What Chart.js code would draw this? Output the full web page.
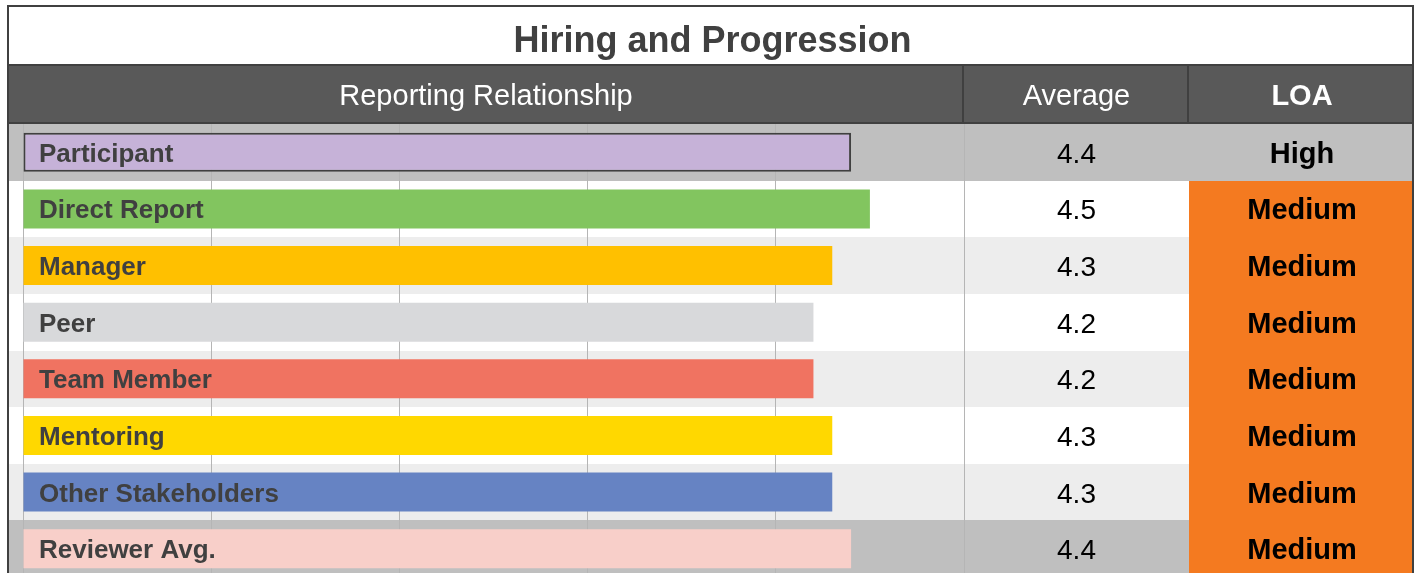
<!DOCTYPE html>
<html>
<head>
<meta charset="utf-8">
<script src="https://cdn.jsdelivr.net/npm/chart.js@4/dist/chart.umd.min.js"></script>
<style>
  html, body { margin: 0; padding: 0; background: #ffffff; overflow: hidden; }
  #wrap { position: relative; width: 1418px; height: 577px; }
</style>
</head>
<body>
<div id="wrap"><canvas id="c" width="1418" height="577"></canvas></div>
<script>
// ---- data ----
const chartTitle = 'Hiring and Progression';
const headerLabels = ['Reporting Relationship', 'Average', 'LOA'];
const categories = ['Participant', 'Direct Report', 'Manager', 'Peer', 'Team Member', 'Mentoring', 'Other Stakeholders', 'Reviewer Avg.'];
const scores = [4.4, 4.5, 4.3, 4.2, 4.2, 4.3, 4.3, 4.4];
const averageLabels = ['4.4', '4.5', '4.3', '4.2', '4.2', '4.3', '4.3', '4.4'];
const loaLabels = ['High', 'Medium', 'Medium', 'Medium', 'Medium', 'Medium', 'Medium', 'Medium'];
const xTicks = [0, 1, 2, 3, 4, 5];

// ---- styles ----
const barColors = ['#c6b2d8', '#82c55f', '#ffc000', '#d8d9db', '#f07361', '#ffd800', '#6683c3', '#f8cfc9'];
const barBorderWidths = [2, 0, 0, 0, 0, 0, 0, 0];
const rowShades = ['#bfbfbf', '#ffffff', '#ededed', '#ffffff', '#ededed', '#ffffff', '#ededed', '#bfbfbf'];
const loaColors = { High: null, Medium: '#f47a20' };
const DARK = '#404040';
const FONT = '"Liberation Sans", Arial, Helvetica, sans-serif';

const FRAME_L = 7, FRAME_R = 1414, FRAME_T = 5;
const TITLE_BOTTOM = 65, HEADER_BOTTOM = 123;
const COL_AVG_L = 963, COL_LOA_L = 1188;

function rowGeom(chart, i) {
  const ys = chart.scales.y;
  const n = categories.length;
  const h = (chart.chartArea.bottom - chart.chartArea.top) / n;
  const c = ys.getPixelForValue(i);
  const top = Math.round(c - h / 2), bottom = Math.round(c + h / 2);
  return { top: top, bottom: bottom, center: c, h: bottom - top };
}

const tablePlugin = {
  id: 'tablePlugin',
  beforeDraw(chart) {
    const ctx = chart.ctx;
    ctx.save();
    ctx.fillStyle = '#ffffff';
    ctx.fillRect(0, 0, chart.width, chart.height);
    // row shading
    categories.forEach((_, i) => {
      const g = rowGeom(chart, i);
      ctx.fillStyle = rowShades[i];
      ctx.fillRect(FRAME_L + 2, g.top, FRAME_R - FRAME_L - 3, g.h);
      const lc = loaColors[loaLabels[i]];
      if (lc) {
        ctx.fillStyle = lc;
        ctx.fillRect(COL_LOA_L + 1, g.top, FRAME_R - 2 - COL_LOA_L, g.h);
      }
    });
    ctx.restore();
  },
  afterDatasetsDraw(chart) {
    const ctx = chart.ctx;
    ctx.save();
    // labels inside bars
    ctx.fillStyle = DARK;
    ctx.font = 'bold 26px ' + FONT;
    ctx.textAlign = 'left';
    ctx.textBaseline = 'alphabetic';
    categories.forEach((name, i) => {
      const g = rowGeom(chart, i);
      ctx.fillText(name, 39, g.center + 9.5);
    });
    // Average column values
    const avgC = (COL_AVG_L + COL_LOA_L) / 2 + 1;
    const loaC = (COL_LOA_L + FRAME_R) / 2 + 1;
    ctx.textAlign = 'center';
    ctx.fillStyle = '#000000';
    ctx.font = '28px ' + FONT;
    averageLabels.forEach((v, i) => {
      const g = rowGeom(chart, i);
      ctx.fillText(v, avgC, g.center + 10.5);
    });
    ctx.font = 'bold 29px ' + FONT;
    loaLabels.forEach((v, i) => {
      const g = rowGeom(chart, i);
      ctx.fillText(v, loaC, g.center + 10.5);
    });
    ctx.restore();
  },
  afterDraw(chart) {
    const ctx = chart.ctx;
    ctx.save();
    // title box
    ctx.fillStyle = '#ffffff';
    ctx.fillRect(FRAME_L, FRAME_T, FRAME_R - FRAME_L, TITLE_BOTTOM - FRAME_T);
    ctx.fillStyle = DARK;
    ctx.font = 'bold 36px ' + FONT;
    ctx.textAlign = 'center';
    ctx.textBaseline = 'alphabetic';
    ctx.fillText(chartTitle, (FRAME_L + FRAME_R) / 2 + 2, 51.5);
    // header band
    ctx.fillStyle = '#595959';
    ctx.fillRect(FRAME_L, TITLE_BOTTOM, FRAME_R - FRAME_L, HEADER_BOTTOM - TITLE_BOTTOM);
    ctx.fillStyle = '#ffffff';
    ctx.font = '29px ' + FONT;
    ctx.fillText(headerLabels[0], (FRAME_L + COL_AVG_L) / 2 + 1, 105);
    ctx.fillText(headerLabels[1], (COL_AVG_L + COL_LOA_L) / 2 + 1, 105);
    ctx.font = 'bold 29px ' + FONT;
    ctx.fillText(headerLabels[2], (COL_LOA_L + FRAME_R) / 2 + 1, 105);
    // lines
    ctx.strokeStyle = DARK;
    ctx.lineWidth = 2;
    ctx.beginPath();
    ctx.moveTo(FRAME_L, TITLE_BOTTOM); ctx.lineTo(FRAME_R, TITLE_BOTTOM);
    ctx.moveTo(FRAME_L, HEADER_BOTTOM); ctx.lineTo(FRAME_R, HEADER_BOTTOM);
    ctx.moveTo(COL_AVG_L, TITLE_BOTTOM); ctx.lineTo(COL_AVG_L, HEADER_BOTTOM);
    ctx.moveTo(COL_LOA_L, TITLE_BOTTOM); ctx.lineTo(COL_LOA_L, HEADER_BOTTOM);
    ctx.stroke();
    // outer frame
    ctx.strokeRect(FRAME_L + 1, FRAME_T + 1, FRAME_R - FRAME_L - 2, chart.height + 20);
    ctx.restore();
  }
};

new Chart(document.getElementById('c'), {
  type: 'bar',
  data: {
    labels: categories,
    datasets: [{
      data: scores,
      backgroundColor: barColors,
      borderColor: DARK,
      borderWidth: barBorderWidths,
      borderSkipped: false,
      categoryPercentage: 1.0,
      barPercentage: 0.69
    }]
  },
  options: {
    indexAxis: 'y',
    responsive: false,
    animation: false,
    devicePixelRatio: 1,
    layout: { padding: { left: 23, right: 1418 - 964, top: 124, bottom: 0 } },
    plugins: { legend: { display: false }, tooltip: { enabled: false }, title: { display: false } },
    scales: {
      x: {
        min: xTicks[0],
        max: xTicks[xTicks.length - 1],
        afterBuildTicks(scale) { scale.ticks = xTicks.map(v => ({ value: v })); },
        ticks: { display: false },
        grid: { color: '#b5b5b5', lineWidth: 1, drawTicks: false },
        border: { display: false }
      },
      y: {
        display: false,
        grid: { display: false }
      }
    }
  },
  plugins: [tablePlugin]
});
</script>
</body>
</html>
